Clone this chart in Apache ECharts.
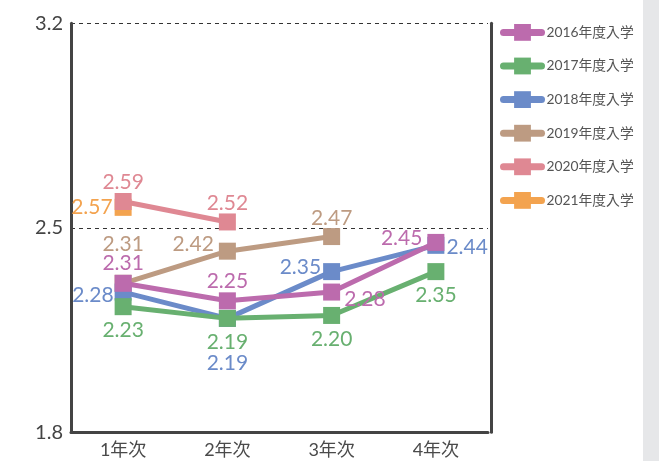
<!DOCTYPE html>
<html><head><meta charset="utf-8">
<script src="https://cdn.jsdelivr.net/npm/echarts@6/dist/echarts.min.js"></script>
<style>html,body{margin:0;padding:0;background:#fff}#c{width:659px;height:461px}</style>
</head><body><div id="c"></div>
<script>
var categories = ['1年次','2年次','3年次','4年次'];
var seriesNames = ['2016年度入学','2017年度入学','2018年度入学','2019年度入学','2020年度入学','2021年度入学'];
var s2016 = [2.31, 2.25, 2.28, 2.45];
var s2017 = [2.23, 2.19, 2.20, 2.35];
var s2018 = [2.28, 2.19, 2.35, 2.44];
var s2019 = [2.31, 2.42, 2.47, null];
var s2020 = [2.59, 2.52, null, null];
var s2021 = [2.57, null, null, null];
var yTicks = [1.8, 2.5, 3.2];

var values = [s2016, s2017, s2018, s2019, s2020, s2021];
var colors = ['#bc6bad','#68b070','#6b8bc9','#bd9b82','#df8893','#f3a34f'];
// label placement per series/point: [position, distance, offsetY]
var labelCfg = [
  [['top',1,0],['top',1,0],['right',4,7],['left',5,-4]],
  [['bottom',5,0],['bottom',5,0],['bottom',5,0],['bottom',5,0]],
  [['left',1,3],['bottom',26,0],['left',2,-4],['right',2,2]],
  [['top',20,0],['left',5,-7],['top',-1,0],null],
  [['top',0,0],['top',0,0],null,null],
  [['left',2,0],null,null,null]
];
var FONT = "Lato, 'Noto Sans CJK JP', sans-serif";
var series = seriesNames.map(function(name, i){
  return {
    name: name, type: 'line', z: 10 - i,
    symbol: 'rect', symbolSize: 17,
    lineStyle: {width: 5, color: colors[i]},
    itemStyle: {color: colors[i]},
    connectNulls: false,
    data: values[i].map(function(v, j){
      var c = labelCfg[i][j];
      if (v === null) return null;
      return {value: v, label: {show: true, position: c[0], distance: c[1], offset: [0, c[2]],
        color: colors[i], fontSize: 21, fontFamily: FONT,
        formatter: function(p){ return p.value.toFixed(2); }}};
    })
  };
});
var chart = echarts.init(document.getElementById('c'));
chart.setOption({
  animation: false,
  grid: {left: 71, right: 171, top: 23.3, bottom: 28.7},
  legend: {orient: 'vertical', left: 495, top: 19, itemWidth: 38, itemHeight: 21, itemGap: 16.8,
    lineStyle: {width: 7, cap: 'round'},
    textStyle: {color: '#555', fontSize: 13.8, fontFamily: FONT}, data: seriesNames},
  xAxis: {type: 'category', data: categories,
    axisLine: {lineStyle: {color: '#444', width: 3}}, axisTick: {show: false},
    axisLabel: {color: '#4a4a4a', fontSize: 18, fontFamily: FONT, margin: 9}},
  yAxis: [{type: 'value', min: yTicks[0], max: yTicks[2], interval: yTicks[1] - yTicks[0],
    axisLine: {show: true, lineStyle: {color: '#444', width: 3}}, axisTick: {show: false},
    axisLabel: {color: '#444', fontSize: 20, fontFamily: FONT, margin: 8,
      formatter: function(v){ return v.toFixed(1); }},
    splitLine: {show: true, lineStyle: {type: [4,4], color: '#333', width: 1}}},
    {type: 'value', position: 'right', offset: 3, min: yTicks[0], max: yTicks[2],
    axisLine: {show: true, lineStyle: {color: '#444', width: 3}}, axisTick: {show: false},
    axisLabel: {show: false}, splitLine: {show: false}}],
  graphic: [{type: 'rect', shape: {x: 643, y: 0, width: 16, height: 461}, style: {fill: '#e6e7e9'}, z: -1}],
  series: series
});
</script></body></html>
